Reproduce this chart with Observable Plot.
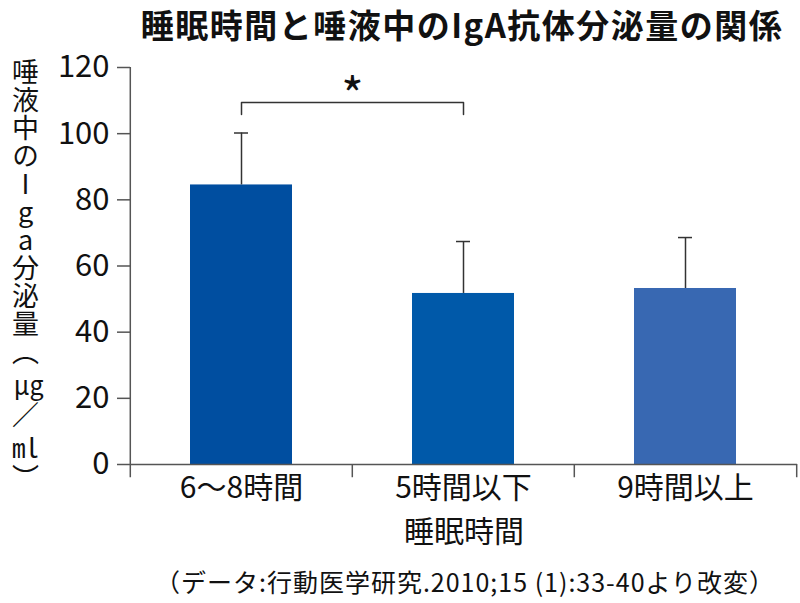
<!DOCTYPE html>
<html><head><meta charset="utf-8">
<script src="https://cdn.jsdelivr.net/npm/d3@7"></script>
<script src="https://cdn.jsdelivr.net/npm/@observablehq/plot@0.6"></script>
<style>
body{margin:0;width:800px;height:603px;position:relative;background:#fff;font-family:"Noto Sans CJK JP","Noto Sans",sans-serif;color:#111;overflow:hidden}
#chart{position:absolute;top:28px;left:0}
#chart svg{overflow:visible}
#title{position:absolute;top:0;left:462px;transform:translateX(-50%);font-size:33px;font-weight:700;line-height:49px;letter-spacing:1.5px;white-space:nowrap}
#ylab{position:absolute;left:8px;top:58px;writing-mode:vertical-rl;text-orientation:upright;font-size:27px;line-height:34px;letter-spacing:1px;white-space:nowrap}
.tcy{text-combine-upright:all;margin-inline:4px}
#cap{position:absolute;top:563px;left:0;width:800px;padding-left:130px;box-sizing:border-box;text-align:center;font-size:25px;letter-spacing:1px;white-space:nowrap}
</style></head>
<body>
<div id="chart"></div>
<div id="title">睡眠時間と唾液中のIgA抗体分泌量の関係</div>
<div id="ylab">唾液中のIga分泌量（<span class="tcy">μg</span>／<span class="tcy">ml</span>）</div>
<div id="cap">（データ:行動医学研究.2010;15 (1):33-40より改変）</div>
<script>
const categories = ["6〜8時間", "5時間以下", "9時間以上"];
const means = [84.5, 51.7, 53.2];
const upperSD = [100.2, 67.4, 68.6];
const barColors = ["#004ea0", "#0059a9", "#3868b2"];
const yTicks = [0, 20, 40, 60, 80, 100, 120];
const xTitle = "睡眠時間";
const sigPair = ["6〜8時間", "5時間以下"];
const sigLabel = "*";
const bracketTop = 109.4, bracketEnd = 105.8, starY = 114.6;

const data = categories.map((c, i) => ({cat: c, mean: means[i], upper: upperSD[i], color: barColors[i]}));
const bracket = [
  {x: sigPair[0], y: bracketEnd}, {x: sigPair[0], y: bracketTop},
  {x: sigPair[1], y: bracketTop}, {x: sigPair[1], y: bracketEnd}
];
const axisColor = "#555";
const tickDown = 4;

const chart = Plot.plot({
  width: 800, height: 530,
  marginLeft: 130, marginRight: 3, marginTop: 39, marginBottom: 94,
  style: {fontFamily: '"Noto Sans CJK JP", sans-serif', color: "#111", background: "transparent", overflow: "visible"},
  x: {domain: categories, paddingInner: 0.54, paddingOuter: 0.27, axis: null},
  y: {domain: [0, 120], axis: null},
  color: {type: "identity"},
  marks: [
    Plot.barY(data, {x: "cat", y: "mean", fill: "color"}),
    Plot.ruleX(data, {x: "cat", y1: "mean", y2: "upper", stroke: "#333", strokeWidth: 1.5}),
    Plot.tickY(data, {x: "cat", y: "upper", insetLeft: 44, insetRight: 44, stroke: "#333", strokeWidth: 1.5}),
    Plot.line(bracket, {x: "x", y: "y", stroke: "#333", strokeWidth: 1.5}),
    Plot.text([{x: sigPair[0], y: starY}], {x: "x", y: "y", text: () => sigLabel, dx: 111, dy: 12, fontSize: 48, fontWeight: 400, fill: "#111"}),
    Plot.ruleY([0], {stroke: axisColor, strokeWidth: 1.5}),
    Plot.ruleX([categories[0]], {x: d => d, y1: -tickDown, y2: 120, dx: -111.2, stroke: axisColor, strokeWidth: 1.5}),
    Plot.ruleX(categories.slice(1), {x: d => d, y1: -tickDown, y2: 0, dx: -111.2, stroke: axisColor, strokeWidth: 1.5}),
    Plot.ruleX(categories.slice(-1), {x: d => d, y1: -tickDown, y2: 0, dx: 111.2, stroke: axisColor, strokeWidth: 1.5}),
    Plot.axisY({ticks: yTicks, tickSize: 13, tickPadding: 8, fontSize: 31, label: null, stroke: axisColor, strokeWidth: 1.5, fill: "#111"}),
    Plot.axisX({tickSize: 0, tickPadding: 12, fontSize: 30, label: null, fill: "#111"}),
    Plot.text([xTitle], {frameAnchor: "bottom", dy: 77, fontSize: 30, fill: "#111"})
  ]
});
document.getElementById("chart").append(chart);
</script>
</body></html>
